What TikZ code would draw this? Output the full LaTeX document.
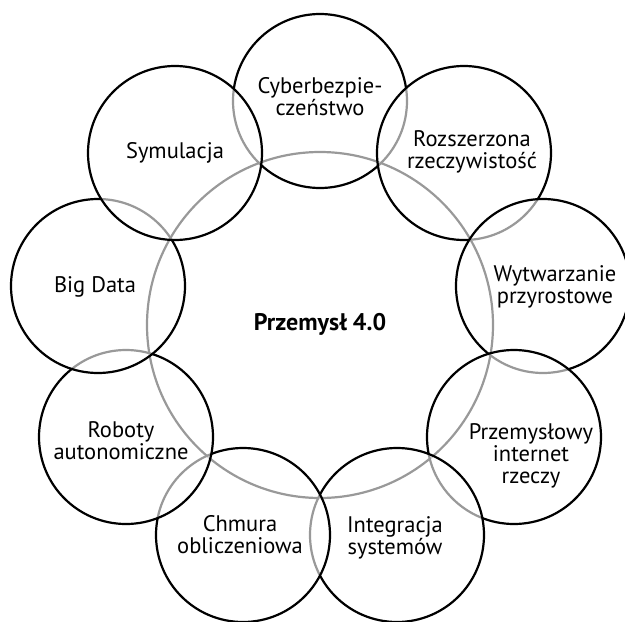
\documentclass[tikz,border=0pt]{standalone}
\usepackage{fontspec}
\setmainfont{PT Sans}
\begin{document}
\begin{tikzpicture}[x=1pt,y=-1pt,
  ring/.style={circle,draw=black,line width=2.2pt,inner sep=0pt,outer sep=0pt},
  small/.style={ring,minimum size=174pt,fill=white,fill opacity=0.6},
  big/.style={ring,minimum size=346pt},
  lbl/.style={align=center,inner sep=0pt,font=\fontsize{22.5}{22}\selectfont},
  mainlbl/.style={inner sep=0pt,font=\bfseries\fontsize{24}{26}\selectfont}]
\useasboundingbox (0,0) rectangle (625,622);
\node[big] (core) at (320,325) {};
\node[small] (cyb) at (320,101) {};
\node[small] (roz) at (464,153) {};
\node[small] (wyt) at (543,286) {};
\node[small] (piot) at (514,437) {};
\node[small] (int) at (397,535) {};
\node[small] (chm) at (243,535) {};
\node[small] (rob) at (126,437) {};
\node[small] (bd) at (98,286) {};
\node[small] (sym) at (175,153) {};
\node[lbl] (tcyb) at (320,97) {Cyberbezpie-\\czeństwo};
\node[lbl] (troz) at (472,152) {Rozszerzona\\rzeczywistość};
\node[lbl] (twyt) at (555,287) {Wytwarzanie\\przyrostowe};
\node[lbl] (tpiot) at (531,456) {Przemysłowy\\internet\\rzeczy};
\node[lbl] (tint) at (395,538) {Integracja\\systemów};
\node[lbl] (tchm) at (240,535) {Chmura\\obliczeniowa};
\node[lbl] (trob) at (121,441) {Roboty\\autonomiczne};
\node[lbl] (tbd) at (95,287) {Big Data};
\node[lbl] (tsym) at (175,153) {Symulacja};
\node[mainlbl] (tcore) at (320,324) {Przemysł 4.0};
\end{tikzpicture}
\end{document}
